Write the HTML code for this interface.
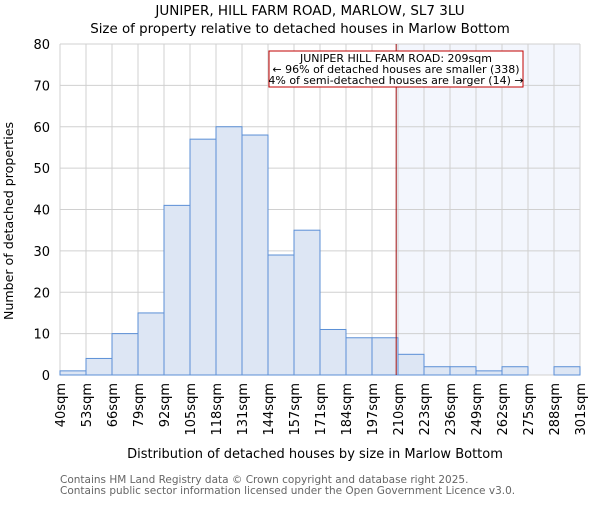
<!DOCTYPE html>
<html><head><meta charset="utf-8"><style>
body{margin:0;background:#fff;}
svg text{font-family:"DejaVu Sans","Liberation Sans",sans-serif;}
</style></head><body>
<svg id="chart" width="600" height="500" xmlns="http://www.w3.org/2000/svg">
<text x="310" y="15" text-anchor="middle" font-size="13.5">JUNIPER, HILL FARM ROAD, MARLOW, SL7 3LU</text>
<text x="300" y="33" text-anchor="middle" font-size="13.4">Size of property relative to detached houses in Marlow Bottom</text>
<g id="plot"></g>
<text x="315" y="458" text-anchor="middle" font-size="13">Distribution of detached houses by size in Marlow Bottom</text>
<text transform="translate(13,221) rotate(-90)" text-anchor="middle" font-size="12.6">Number of detached properties</text>
<text x="60" y="483" font-size="10.5" fill="#666">Contains HM Land Registry data © Crown copyright and database right 2025.</text>
<text x="60" y="494" font-size="10.5" fill="#666">Contains public sector information licensed under the Open Government Licence v3.0.</text>
</svg>
<script>
const tickLabels=["40sqm","53sqm","66sqm","79sqm","92sqm","105sqm","118sqm","131sqm","144sqm","157sqm","171sqm","184sqm","197sqm","210sqm","223sqm","236sqm","249sqm","262sqm","275sqm","288sqm","301sqm"];
const counts=[1,4,10,15,41,57,60,58,29,35,11,9,9,5,2,2,1,2,0,2];
const yTicks=[0,10,20,30,40,50,60,70,80];
const propertyBin=12.93;
const NS="http://www.w3.org/2000/svg";
const L=60,R=580,T=44,B=375,yMax=80;
const bw=(R-L)/counts.length;
const x=i=>L+i*bw;
const y=v=>B-(v/yMax)*(B-T);
const g=document.getElementById('plot');
function mk(t,a){const e=document.createElementNS(NS,t);for(const k in a)e.setAttribute(k,a[k]);g.appendChild(e);return e;}
const px=x(propertyBin);
let e=mk('rect',{x:px,y:T,width:R-px,height:B-T,fill:'#f3f6fd'});


for(let i=0;i<tickLabels.length;i++){
 e=mk('line',{x1:x(i),x2:x(i),y1:T,y2:B,stroke:'#d0d0d0','stroke-width':1});
 
 
}
yTicks.forEach(v=>{
 e=mk('line',{x1:L,x2:R,y1:y(v),y2:y(v),stroke:'#d0d0d0','stroke-width':1});
 
 
 e=mk('text',{x:L-10,y:y(v)+5,'text-anchor':'end','font-size':13});
 e.textContent=v;
 
 
});
counts.forEach((c,i)=>{
 if(c<=0)return;
 e=mk('rect',{x:x(i),y:y(c),width:bw,height:B-y(c),fill:'#dde6f4',stroke:'#5b8fd6','stroke-width':1});
 
 
});
tickLabels.forEach((t,i)=>{
 e=mk('text',{transform:`translate(${x(i)+5},${B+8}) rotate(-90)`,'text-anchor':'end','font-size':13});
 e.textContent=t;
 
 
});
e=mk('line',{x1:px,x2:px,y1:T,y2:B,stroke:'#a01010','stroke-width':1});


e=mk('rect',{x:269,y:51,width:254,height:36,fill:'#fff',stroke:'#c00000','stroke-width':1});


const ann=["JUNIPER HILL FARM ROAD: 209sqm","← 96% of detached houses are smaller (338)","4% of semi-detached houses are larger (14) →"];
ann.forEach((t,i)=>{
 e=mk('text',{x:396,y:62+i*11,'text-anchor':'middle','font-size':11});
 e.textContent=t;
 
 
});
</script>
</body></html>
